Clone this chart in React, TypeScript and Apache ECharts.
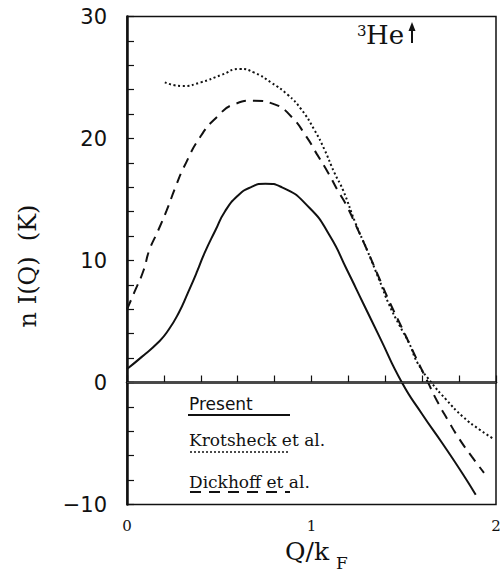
import React, { useEffect, useRef } from "react";
import * as echarts from "echarts";

// Present (solid)
const presentQ = [0, 0.08, 0.17, 0.22, 0.28, 0.33, 0.38, 0.42, 0.48, 0.53, 0.6, 0.67, 0.75, 0.84, 0.99, 1.1, 1.19, 1.28, 1.37, 1.49, 1.6, 1.71, 1.82, 1.89];
const presentV = [1.1, 2.1, 3.3, 4.2, 5.7, 7.35, 9.1, 10.6, 12.5, 14.0, 15.3, 16.0, 16.3, 16.0, 14.3, 12.0, 9.3, 6.5, 3.7, 0.0, -2.6, -5.0, -7.5, -9.2];

// Krotscheck et al. (dotted)
const krotQ = [0.205, 0.3, 0.4, 0.51, 0.61, 0.69, 0.78, 0.87, 0.944, 1.016, 1.07, 1.124, 1.17, 1.24, 1.3, 1.37, 1.42, 1.476, 1.53, 1.575, 1.647, 1.73, 1.82, 1.91, 1.99];
const krotV = [24.6, 24.3, 24.6, 25.2, 25.7, 25.4, 24.6, 23.6, 22.4, 20.7, 19.1, 17.2, 15.8, 13.0, 10.9, 8.3, 6.4, 4.7, 3.2, 1.6, 0.05, -1.4, -2.8, -3.85, -4.65];

// Dickhoff et al. (dashed)
const dickQ = [0, 0.04, 0.09, 0.12, 0.17, 0.215, 0.26, 0.31, 0.4, 0.49, 0.58, 0.69, 0.8, 0.89, 0.97, 1.03, 1.09, 1.14, 1.19, 1.24, 1.3, 1.36, 1.42, 1.48, 1.53, 1.58, 1.63, 1.68, 1.74, 1.8, 1.87, 1.935];
const dickV = [6.0, 7.4, 9.2, 10.8, 12.5, 14.1, 15.9, 17.7, 20.2, 21.8, 22.8, 23.1, 22.8, 21.8, 20.2, 18.7, 17.2, 15.8, 14.5, 12.9, 10.9, 8.8, 6.7, 4.8, 3.2, 1.6, 0.05, -1.5, -3.1, -4.6, -6.1, -7.4];

const xMin = 0, xMax = 2, xStep = 0.2;
const yMin = -10, yMax = 30, yStep = 2;
const legendNames = ["Present", "Krotsheck et al.", "Dickhoff et al."];

const pairs = (q: number[], v: number[]) => q.map((x, i) => [x, v[i]]);

const SERIF = "DejaVu Serif";
const SANS = "DejaVu Sans";
const INK = "#111";

export default function App() {
  const ref = useRef<HTMLDivElement>(null);
  useEffect(() => {
    if (!ref.current) return;
    const chart = echarts.init(ref.current, null, { renderer: "svg" });
    const lineBase = {
      type: "line",
      smooth: 0.55,
      showSymbol: false,
    };
    const option: any = {
      animation: false,
      backgroundColor: "#fff",
      grid: {
        left: 127,
        top: 16.5,
        right: 4,
        bottom: 66.5,
        containLabel: false,
        outerBoundsMode: "none",
        show: true,
        borderColor: INK,
        borderWidth: 1.5,
      },
      xAxis: {
        type: "value",
        min: xMin,
        max: xMax,
        interval: xStep,
        axisLine: { show: true, lineStyle: { color: INK, width: 2.5 } },
        axisTick: { show: true, inside: true, length: 7, lineStyle: { color: INK, width: 1.2 } },
        splitLine: { show: false },
        axisLabel: {
          margin: 14,
          color: INK,
          fontFamily: SERIF,
          fontSize: 15,
          formatter: (v: number) => (Math.abs(v - Math.round(v)) < 1e-6 ? String(Math.round(v)) : ""),
        },
      },
      yAxis: {
        type: "value",
        min: yMin,
        max: yMax,
        interval: yStep,
        axisLine: { show: true, lineStyle: { color: INK, width: 2.5 } },
        axisTick: { show: true, inside: true, length: 7, lineStyle: { color: INK, width: 1.2 } },
        splitLine: { show: false },
        axisLabel: {
          margin: 20,
          color: INK,
          fontFamily: SANS,
          fontSize: 21,
          formatter: (v: number) => {
            const r = Math.round(v);
            if (r % 10 !== 0) return "";
            return r < 0 ? "\u2212" + Math.abs(r) : String(r);
          },
        },
      },
      series: [
        {
          ...lineBase,
          name: legendNames[0],
          data: pairs(presentQ, presentV),
          lineStyle: { color: INK, width: 2 },
          markLine: {
            silent: true,
            symbol: "none",
            label: { show: false },
            lineStyle: { color: "#555", width: 0.8, type: "solid" },
            data: [{ yAxis: 0 }],
          },
        },
        {
          ...lineBase,
          name: legendNames[1],
          data: pairs(krotQ, krotV),
          lineStyle: { color: INK, width: 2, type: [2, 2.6] },
        },
        {
          ...lineBase,
          name: legendNames[2],
          data: pairs(dickQ, dickV),
          lineStyle: { color: INK, width: 2, type: [10, 7] },
        },
      ],
      graphic: [
        // y axis title
        {
          type: "text",
          x: 28,
          y: 266,
          rotation: Math.PI / 2,
          style: { text: "n I(Q)  (K)", font: `24px "${SERIF}"`, fill: INK, align: "center", verticalAlign: "middle" },
        },
        // x axis title
        {
          type: "text",
          x: 285,
          y: 551,
          style: { text: "Q/k", font: `25px "${SERIF}"`, fill: INK, align: "left", verticalAlign: "middle" },
        },
        {
          type: "text",
          x: 336,
          y: 563,
          style: { text: "F", font: `17px "${SERIF}"`, fill: INK, align: "left", verticalAlign: "middle" },
        },
        // 3He label
        {
          type: "text",
          x: 357,
          y: 31,
          style: { text: "3", font: `15px "${SERIF}"`, fill: INK, align: "left", verticalAlign: "middle" },
        },
        {
          type: "text",
          x: 366,
          y: 35,
          style: { text: "He", font: `26px "${SERIF}"`, fill: INK, align: "left", verticalAlign: "middle" },
        },
        {
          type: "line",
          shape: { x1: 412, y1: 29, x2: 412, y2: 43 },
          style: { stroke: INK, lineWidth: 2 },
        },
        {
          type: "polygon",
          shape: { points: [[408.5, 31], [415.5, 31], [412, 22]] },
          style: { fill: INK },
        },
        // legend
        {
          type: "text",
          x: 189,
          y: 404,
          style: { text: legendNames[0], font: `17px "${SANS}"`, fill: INK, align: "left", verticalAlign: "middle" },
        },
        {
          type: "line",
          shape: { x1: 188, y1: 415, x2: 290, y2: 415 },
          style: { stroke: INK, lineWidth: 2 },
        },
        {
          type: "text",
          x: 189,
          y: 440,
          style: { text: legendNames[1], font: `17px "${SERIF}"`, fill: INK, align: "left", verticalAlign: "middle" },
        },
        {
          type: "line",
          shape: { x1: 190, y1: 452, x2: 290, y2: 452 },
          style: { stroke: INK, lineWidth: 1.6, lineDash: [2, 2] },
        },
        {
          type: "text",
          x: 189,
          y: 482,
          style: { text: legendNames[2], font: `17px "${SERIF}"`, fill: INK, align: "left", verticalAlign: "middle" },
        },
        {
          type: "line",
          shape: { x1: 190, y1: 492, x2: 290, y2: 492 },
          style: { stroke: INK, lineWidth: 2, lineDash: [11, 8] },
        },
      ],
    };
    chart.setOption(option);
    return () => chart.dispose();
  }, []);
  return (
    <div
      ref={ref}
      style={{ position: "absolute", left: 0, top: 0, width: 500, height: 571, background: "#fff" }}
    />
  );
}
